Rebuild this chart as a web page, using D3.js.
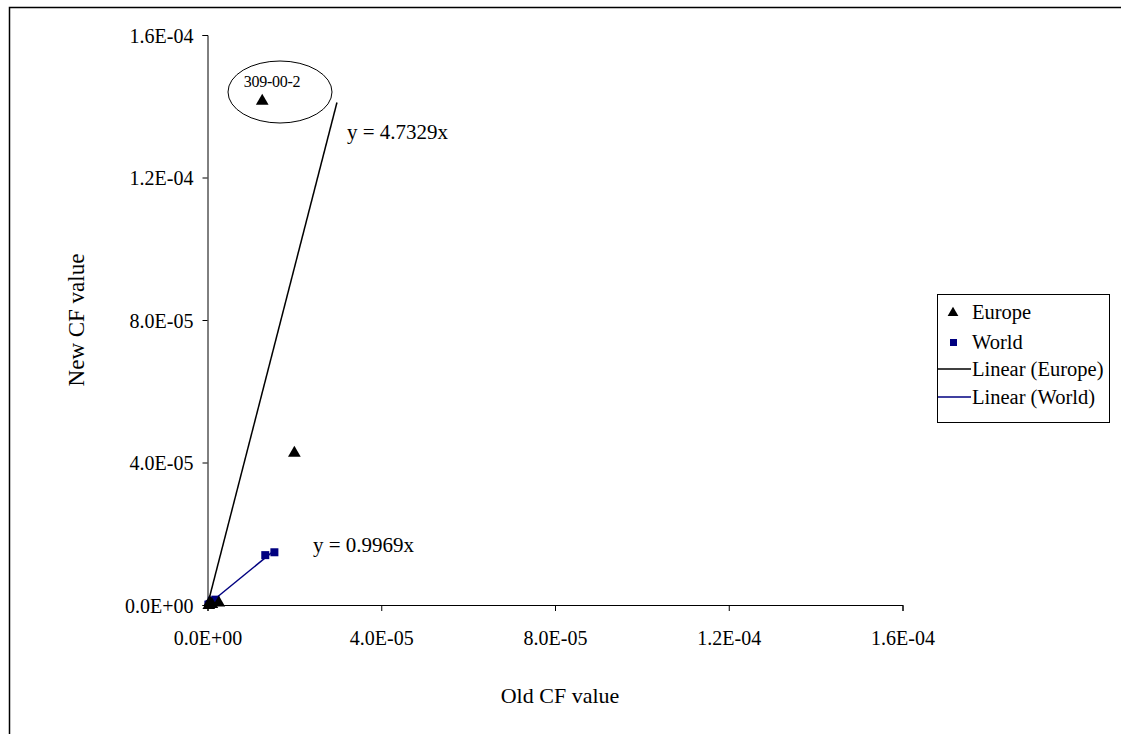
<!DOCTYPE html>
<html>
<head>
<meta charset="utf-8">
<script src="https://cdn.jsdelivr.net/npm/d3@7"></script>
<style>
  body { margin: 0; background: #fff; }
  svg, text { font-family: "Liberation Serif", "DejaVu Serif", serif; fill: #000; }
</style>
</head>
<body>
<div id="chart"></div>
<script>
// Europe points (old CF, new CF)
var europeOld = [1.26e-5, 2.0e-5, 2.6e-6, 1.0e-6, 3e-7, 5e-7];
var europeNew = [1.417e-4, 4.29e-5, 9e-7, 5e-7, 2e-7, 1.0e-6];
// World points
var worldOld = [1.33e-5, 1.54e-5, 2e-7, 1.0e-6, 1.8e-6, 5e-7, 1.2e-6];
var worldNew = [1.40e-5, 1.48e-5, 1e-7, 1.2e-6, 1.5e-6, 3e-7, 8e-7];
// Trend lines through origin
var trendNames = ["Europe", "World"];
var trendSlope = [4.7329, 0.9969];
var trendXmax = [2.98e-5, 1.54e-5];
// Ticks
var tickValues = [0, 4e-5, 8e-5, 1.2e-4, 1.6e-4];
var tickLabels = ["0.0E+00", "4.0E-05", "8.0E-05", "1.2E-04", "1.6E-04"];

var FONT = "'Liberation Serif', 'DejaVu Serif', serif";
var W = 1121, H = 734;
var svg = d3.select("#chart").append("svg")
    .attr("width", W)
    .attr("height", H)
    .attr("font-family", FONT);

// outer chart border (cropped at right/bottom)
svg.append("rect")
    .attr("x", 9.5).attr("y", 7.5)
    .attr("width", 1130).attr("height", 740)
    .attr("fill", "none")
    .attr("stroke", "#000")
    .attr("stroke-width", 1.5);

var x = d3.scaleLinear().domain([0, 1.6e-4]).range([207.5, 902.5]);
var y = d3.scaleLinear().domain([0, 1.6e-4]).range([605, 35]);

// axes
var xAxis = svg.append("g")
    .attr("transform", "translate(0," + y(0) + ")")
    .call(d3.axisBottom(x).tickValues(tickValues)
        .tickFormat((d, i) => tickLabels[i]).tickSizeOuter(0).tickSize(6).tickPadding(20));
var yAxis = svg.append("g")
    .attr("transform", "translate(" + x(0) + ",0)")
    .call(d3.axisLeft(y).tickValues(tickValues)
        .tickFormat((d, i) => tickLabels[i]).tickSizeOuter(0).tickSize(5).tickPadding(9));
[xAxis, yAxis].forEach(a => {
    a.attr("font-family", FONT);
    a.select(".domain").attr("stroke", "#000").attr("stroke-width", 1);
    a.selectAll(".tick line").attr("stroke", "#000");
    a.selectAll("text").style("font-family", FONT)
        .style("font-size", "20px").attr("fill", "#000");
});
yAxis.selectAll("text").attr("dy", "0.35em");

// axis titles
svg.append("text")
    .attr("x", 560).attr("y", 703)
    .attr("text-anchor", "middle")
    .style("font-size", "22px")
    .text("Old CF value");
svg.append("text")
    .attr("transform", "translate(84,320) rotate(-90)")
    .attr("text-anchor", "middle")
    .style("font-size", "23px")
    .text("New CF value");

// trend lines
var trendColor = ["#000000", "#000080"];
trendNames.forEach((n, i) => {
    svg.append("line")
        .attr("x1", x(0)).attr("y1", y(0))
        .attr("x2", x(trendXmax[i])).attr("y2", y(trendSlope[i] * trendXmax[i]))
        .attr("stroke", trendColor[i])
        .attr("stroke-width", 1.5);
});

// World squares
var worldData = worldOld.map((v, i) => ({x: v, y: worldNew[i]}));
svg.append("g").selectAll("rect")
    .data(worldData)
    .enter()
    .append("rect")
    .attr("x", d => x(d.x) - 4)
    .attr("y", d => y(d.y) - 4)
    .attr("width", 8)
    .attr("height", 8)
    .attr("fill", "#000080");

// Europe triangles
var europeData = europeOld.map((v, i) => ({x: v, y: europeNew[i]}));
var tri = d3.symbol().type(d3.symbolTriangle).size(70);
svg.append("g").selectAll("path")
    .data(europeData)
    .enter()
    .append("path")
    .attr("d", tri)
    .attr("transform", d => "translate(" + x(d.x) + "," + (y(d.y) + 1) + ")")
    .attr("fill", "#000");

// annotation ellipse
svg.append("ellipse")
    .attr("cx", 280).attr("cy", 92)
    .attr("rx", 52).attr("ry", 31)
    .attr("fill", "none")
    .attr("stroke", "#000")
    .attr("stroke-width", 1);
svg.append("text")
    .attr("x", 272).attr("y", 87)
    .attr("text-anchor", "middle")
    .style("font-size", "16px")
    .style("letter-spacing", "-0.3px")
    .text("309-00-2");

// equation labels
svg.append("text")
    .attr("x", 347).attr("y", 139)
    .style("font-size", "21px")
    .text("y = 4.7329x");
svg.append("text")
    .attr("x", 313).attr("y", 552)
    .style("font-size", "21px")
    .text("y = 0.9969x");

// legend
var legend = svg.append("g");
legend.append("rect")
    .attr("x", 937.5).attr("y", 294.5)
    .attr("width", 172).attr("height", 128)
    .attr("fill", "#fff")
    .attr("stroke", "#000")
    .attr("stroke-width", 1);
var legendItems = ["Europe", "World", "Linear (Europe)", "Linear (World)"];
var rowY = [312, 342, 369, 397];
legendItems.forEach((item, i) => {
    if (i === 0) {
        legend.append("path")
            .attr("d", d3.symbol().type(d3.symbolTriangle).size(50))
            .attr("transform", "translate(953," + (rowY[i] + 1) + ")")
            .attr("fill", "#000");
    } else if (i === 1) {
        legend.append("rect")
            .attr("x", 950).attr("y", rowY[i] - 3)
            .attr("width", 7).attr("height", 7)
            .attr("fill", "#000080");
    } else {
        legend.append("line")
            .attr("x1", 938).attr("x2", 971)
            .attr("y1", rowY[i]).attr("y2", rowY[i])
            .attr("stroke", trendColor[i - 2])
            .attr("stroke-width", 1.5);
    }
    legend.append("text")
        .attr("x", 972)
        .attr("y", rowY[i])
        .attr("dy", "0.33em")
        .style("font-size", "20.5px")
        .text(item);
});
</script>
</body>
</html>
